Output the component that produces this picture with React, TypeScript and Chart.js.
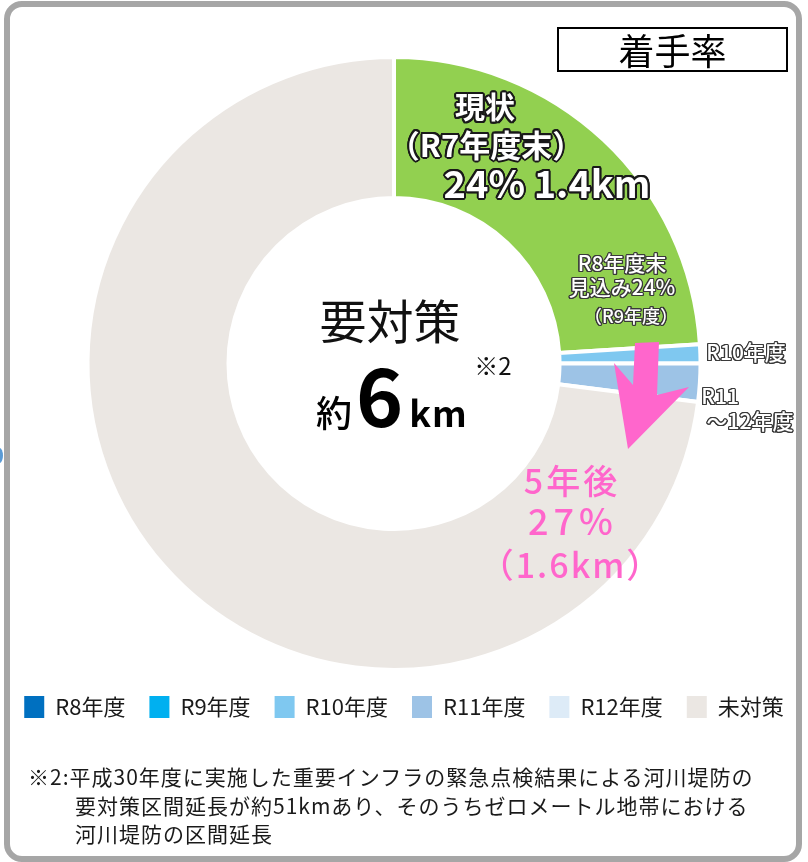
import React, { useEffect, useRef } from 'react';
import { Chart, registerables, layouts } from 'chart.js';

Chart.register(...registerables);

// ---- data ----
const categories = ['現状（R7年度末）', 'R8年度', 'R9年度', 'R10年度', 'R11年度', 'R12年度', '未対策'];
const shares = [24, 0, 0, 1, 2, 0, 73];
const sliceColors = ['#92D050', '#0070C0', '#00B0F0', '#7FC8F0', '#9DC3E6', '#DDEBF7', '#EBE7E3'];

const titleText = '着手率';
const centerTitle = '要対策';
const centerNote = '※2';
const centerPrefix = '約';
const centerValue = '6';
const centerUnit = 'km';
const currentLines = ['現状', '（R7年度末）', '24% 1.4km'];
const r8Lines = ['R8年度末', '見込み24%', '（R9年度）'];
const r10Label = 'R10年度';
const r11Lines = ['R11', '～12年度'];
const futureLines = ['5年後', '27%', '（1.6km）'];
const footnoteLines = [
  '※2:平成30年度に実施した重要インフラの緊急点検結果による河川堤防の',
  '要対策区間延長が約51kmあり、そのうちゼロメートル地帯における',
  '河川堤防の区間延長',
];

const FONT = "'Noto Sans CJK JP', 'Noto Sans', sans-serif";

const outline = (c: string, w: number) => {
  const s: string[] = [];
  for (let a = 0; a < 16; a++) {
    const t = (a * Math.PI) / 8;
    s.push(`${(Math.cos(t) * w).toFixed(2)}px ${(Math.sin(t) * w).toFixed(2)}px 0 ${c}`);
  }
  return s.join(',');
};

type TxtProps = {
  x: number; y: number; size: number; weight?: number; color?: string;
  shadow?: string; ls?: number; children: React.ReactNode;
};
const Txt = ({ x, y, size, weight = 400, color = '#111', shadow, ls = 0, children }: TxtProps) => (
  <div
    style={{
      position: 'absolute', left: x, top: y, transform: 'translate(-50%, -56%)',
      fontFamily: FONT, fontSize: size, fontWeight: weight, color, lineHeight: 1,
      whiteSpace: 'nowrap', textShadow: shadow, letterSpacing: ls,
    }}
  >
    {children}
  </div>
);

// custom layout box reserving space on the right of the chart area
const rightGap = {
  id: 'rightGap',
  beforeInit(chart: any) {
    const box: any = {
      position: 'right', weight: 100, fullSize: false, options: {},
      width: 0, height: 0, left: 0, top: 0, right: 0, bottom: 0,
      isHorizontal() { return false; },
      update(maxWidth: number, maxHeight: number) {
        this.width = 20; this.height = maxHeight;
        return { width: 20, height: maxHeight };
      },
      draw() {},
    };
    (layouts as any).addBox(chart, box);
  },
};

// pink arrow annotation
const arrowPlugin = {
  id: 'arrow',
  afterDatasetsDraw(chart: any) {
    const ctx = chart.ctx;
    ctx.save();
    ctx.fillStyle = '#FF66CC';
    ctx.beginPath();
    const pts = [[635, 343], [659, 342], [657, 395], [689, 387], [628, 449], [614, 363], [633, 385]];
    pts.forEach(([x, y], i) => (i ? ctx.lineTo(x, y) : ctx.moveTo(x, y)));
    ctx.closePath();
    ctx.fill();
    ctx.restore();
  },
};

export default function App() {
  const ref = useRef<HTMLCanvasElement | null>(null);

  useEffect(() => {
    if (!ref.current) return;
    const baseGen = (Chart as any).overrides.doughnut.plugins.legend.labels.generateLabels;
    const chart = new Chart(ref.current, {
      type: 'doughnut',
      data: {
        labels: categories,
        datasets: [{
          data: shares,
          backgroundColor: sliceColors,
          borderColor: '#FFFFFF',
          borderWidth: 4,
        }],
      },
      plugins: [rightGap, arrowPlugin],
      options: {
        responsive: false,
        animation: false,
        devicePixelRatio: 1,
        cutout: '54%',
        layout: { padding: { top: 55, bottom: 134, left: 0, right: 0 } },
        plugins: {
          tooltip: { enabled: false },
          legend: {
            position: 'bottom',
            labels: {
              boxWidth: 20,
              boxHeight: 22,
              padding: 24,
              color: '#1a1a1a',
              font: { size: 22, family: FONT },
              filter: (item: any) => item.index !== 0,
              generateLabels: (c: any) =>
                baseGen(c).map((it: any) => ({ ...it, lineWidth: 0, strokeStyle: 'rgba(0,0,0,0)' })),
            },
          },
        },
      } as any,
    });
    return () => chart.destroy();
  }, []);

  const bigShadow = outline('#1a1a1a', 2);
  const smallShadow = outline('#3a3a3a', 1.2);

  return (
    <div style={{ position: 'absolute', left: 0, top: 0, width: 808, height: 862, background: '#fff', overflow: 'hidden' }}>
      <canvas ref={ref} width={808} height={862} style={{ position: 'absolute', left: 0, top: 0, width: 808, height: 862 }} />
      {/* outer frame */}
      <div style={{ position: 'absolute', left: 4, top: 1, width: 798, height: 861, boxSizing: 'border-box', border: '6px solid #A6A6A6', borderRadius: 18 }} />
      {/* small blue mark on the left edge */}
      <div style={{ position: 'absolute', left: -4, top: 448, width: 7, height: 15, borderRadius: '50%', background: '#5B9BD5' }} />
      {/* title box */}
      <div style={{
        position: 'absolute', left: 557, top: 27, width: 231, height: 45, boxSizing: 'border-box',
        border: '2px solid #000', background: '#fff', display: 'flex', alignItems: 'center', justifyContent: 'center',
        fontFamily: FONT, fontSize: 36, lineHeight: 1, color: '#000',
      }}>
        <span style={{ transform: 'translateY(-1px)' }}>{titleText}</span>
      </div>

      {/* center text */}
      <Txt x={390} y={321} size={47}>{centerTitle}</Txt>
      <Txt x={493} y={366} size={24}>{centerNote}</Txt>
      <div style={{
        position: 'absolute', left: 316, top: 352, display: 'flex', alignItems: 'baseline',
        fontFamily: FONT, lineHeight: 1, color: '#000', whiteSpace: 'nowrap',
      }}>
        <span style={{ fontSize: 36, fontWeight: 500 }}>{centerPrefix}</span>
        <span style={{ fontSize: 80, fontWeight: 700, marginLeft: 4 }}>{centerValue}</span>
        <span style={{ fontSize: 36, fontWeight: 700, marginLeft: 6, letterSpacing: 1 }}>{centerUnit}</span>
      </div>

      {/* current status label */}
      <Txt x={485} y={107} size={30} weight={700} color="#fff" shadow={bigShadow}>{currentLines[0]}</Txt>
      <Txt x={486} y={145} size={31} weight={700} color="#fff" shadow={bigShadow}>{currentLines[1]}</Txt>
      <Txt x={547} y={184} size={38} weight={700} color="#fff" shadow={bigShadow}>{currentLines[2]}</Txt>

      {/* R8 label */}
      <Txt x={622} y={264} size={21} weight={500} color="#fff" shadow={smallShadow}>{r8Lines[0]}</Txt>
      <Txt x={622} y={288} size={21} weight={500} color="#fff" shadow={smallShadow}>{r8Lines[1]}</Txt>
      <Txt x={631} y={316} size={18} weight={500} color="#fff" shadow={smallShadow}>{r8Lines[2]}</Txt>

      {/* R10 / R11-12 labels */}
      <Txt x={746} y={353} size={21} weight={500} color="#fff" shadow={smallShadow}>{r10Label}</Txt>
      <Txt x={720} y={397} size={21} weight={500} color="#fff" shadow={smallShadow}>{r11Lines[0]}</Txt>
      <Txt x={750} y={422} size={21} weight={500} color="#fff" shadow={smallShadow}>{r11Lines[1]}</Txt>

      {/* 5 years later */}
      <Txt x={572} y={482} size={34} weight={500} color="#FF66CC" ls={3}>{futureLines[0]}</Txt>
      <Txt x={573} y={521} size={36} weight={500} color="#FF66CC" ls={5}>{futureLines[1]}</Txt>
      <Txt x={571} y={566} size={34} weight={500} color="#FF66CC" ls={2}>{futureLines[2]}</Txt>

      {/* footnote */}
      <div style={{ position: 'absolute', left: 28, top: 762, fontFamily: FONT, fontSize: 21, lineHeight: '28.5px', letterSpacing: 1, color: '#1a1a1a', whiteSpace: 'nowrap' }}>
        <div>{footnoteLines[0]}</div>
        <div style={{ paddingLeft: 47 }}>{footnoteLines[1]}</div>
        <div style={{ paddingLeft: 47 }}>{footnoteLines[2]}</div>
      </div>
    </div>
  );
}
